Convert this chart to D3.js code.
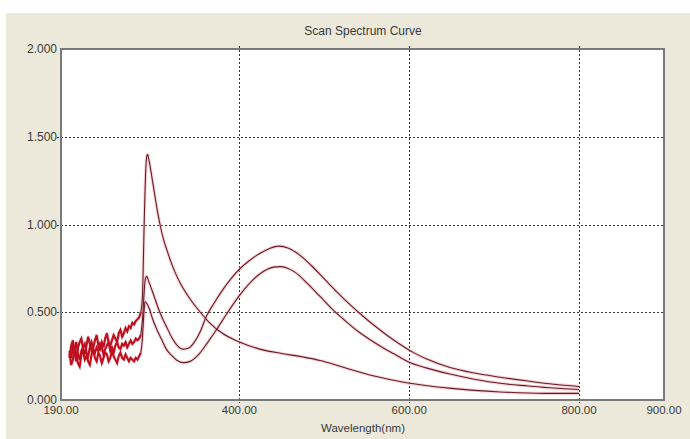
<!DOCTYPE html>
<html>
<head>
<meta charset="utf-8">
<script src="https://cdn.jsdelivr.net/npm/d3@7"></script>
<style>
  html, body { margin: 0; padding: 0; background: #ffffff; }
  svg { display: block; }
  text { font-family: "Liberation Sans", "DejaVu Sans", sans-serif; fill: #3a3a3a; }
</style>
</head>
<body>
<svg id="chart" width="690" height="439"></svg>
<script>
// ---------- data ----------
const chartTitle = "Scan Spectrum Curve";
const xAxisTitle = "Wavelength(nm)";
const xTickValues = [190, 400, 600, 800, 900];
const yTickValues = [0, 0.5, 1.0, 1.5, 2.0];
const xGridValues = [400, 600, 800];
const yGridValues = [0.5, 1.0, 1.5];

const seriesA_nm = [200,202,204,206,208,210,212,214,216,218,220,222,224,226,228,230,232,234,236,238,240,242,244,246,248,250,252,254,256,258,260,262,264,266,268,270,272,274,276,278,280,282,
  284,286,287,288,289,290,291,292,293,295,297,300,303,307,311,315,320,325,330,340,354,365,380,400,424,450,475,495,510,530,560,597,650,707,760,800];
const seriesA_abs = [0.24,0.31,0.34,0.27,0.22,0.30,0.33,0.35,0.29,0.26,0.31,0.36,0.32,0.28,0.30,0.34,0.37,0.31,0.29,0.33,0.30,0.35,0.38,0.33,0.31,0.34,0.37,0.35,0.33,0.38,0.40,0.36,0.38,0.41,0.39,0.42,0.41,0.44,0.43,0.45,0.46,0.47,
  0.50,0.60,0.80,1.02,1.20,1.33,1.39,1.40,1.38,1.33,1.27,1.18,1.09,0.99,0.91,0.85,0.78,0.72,0.67,0.59,0.50,0.44,0.38,0.33,0.29,0.265,0.245,0.225,0.205,0.175,0.135,0.098,0.066,0.046,0.038,0.038];

const seriesB_nm = [200,202,204,206,208,210,212,214,216,218,220,222,224,226,228,230,232,234,236,238,240,242,244,246,248,250,252,254,256,258,260,262,264,266,268,270,272,274,276,278,280,282,
  284,286,288,289,290,291,293,296,299,304,309,314,320,326,333,340,346,354,361,370,380,390,400,412,424,435,446,458,470,485,500,515,530,545,560,575,590,605,620,648,675,707,740,770,800];
const seriesB_abs = [0.28,0.24,0.31,0.29,0.33,0.26,0.23,0.28,0.30,0.32,0.27,0.25,0.30,0.33,0.29,0.27,0.30,0.28,0.32,0.30,0.26,0.29,0.31,0.33,0.28,0.30,0.27,0.31,0.33,0.30,0.29,0.32,0.31,0.33,0.30,0.32,0.34,0.32,0.33,0.35,0.34,0.35,
  0.37,0.46,0.62,0.68,0.70,0.705,0.68,0.64,0.60,0.53,0.47,0.42,0.36,0.315,0.29,0.295,0.323,0.39,0.475,0.55,0.625,0.69,0.745,0.795,0.835,0.862,0.877,0.865,0.83,0.765,0.69,0.615,0.545,0.48,0.42,0.365,0.315,0.27,0.235,0.185,0.155,0.13,0.108,0.09,0.077];

const seriesC_nm = [200,202,204,206,208,210,212,214,216,218,220,222,224,226,228,230,232,234,236,238,240,242,244,246,248,250,252,254,256,258,260,262,264,266,268,270,272,274,276,278,280,282,
  284,286,287,288,289,291,294,298,303,308,314,320,326,334,342,348,354,363,373,385,400,412,424,433,440,448,456,465,480,495,510,525,540,555,570,585,600,620,648,675,707,740,770,800];
const seriesC_abs = [0.27,0.20,0.23,0.29,0.25,0.21,0.19,0.26,0.28,0.23,0.25,0.22,0.20,0.26,0.28,0.24,0.22,0.27,0.25,0.21,0.24,0.27,0.26,0.22,0.24,0.28,0.25,0.23,0.21,0.25,0.27,0.24,0.23,0.26,0.24,0.22,0.24,0.23,0.22,0.24,0.23,0.25,
  0.27,0.36,0.45,0.52,0.56,0.55,0.52,0.46,0.40,0.35,0.29,0.255,0.228,0.213,0.22,0.24,0.27,0.33,0.40,0.49,0.595,0.665,0.718,0.745,0.757,0.76,0.752,0.73,0.665,0.59,0.515,0.45,0.39,0.34,0.295,0.255,0.215,0.183,0.148,0.12,0.095,0.08,0.068,0.06];

const seriesList = [
  { nm: seriesC_nm, abs: seriesC_abs },
  { nm: seriesB_nm, abs: seriesB_abs },
  { nm: seriesA_nm, abs: seriesA_abs }
];
const noiseEnd = 284; // wavelengths up to here are drawn as the noisy baseline

// ---------- layout ----------
const W = 690, H = 439;
const plot = { left: 61, right: 664, top: 49, bottom: 400 };

const svg = d3.select("#chart");

svg.append("rect").attr("x", 6).attr("y", 13).attr("width", W - 6).attr("height", H - 13).attr("fill", "#ECE9DA");

svg.append("rect")
  .attr("x", plot.left).attr("y", plot.top)
  .attr("width", plot.right - plot.left).attr("height", plot.bottom - plot.top)
  .attr("fill", "#ffffff");

const x = d3.scaleLinear().domain([190, 900]).range([plot.left, plot.right]);
const y = d3.scaleLinear().domain([0, 2]).range([plot.bottom, plot.top]);

// gridlines
const grid = svg.append("g");
grid.selectAll("line.hg").data(yGridValues).enter().append("line")
  .attr("x1", plot.left - 4).attr("x2", plot.right)
  .attr("y1", d => Math.round(y(d)) + 0.5).attr("y2", d => Math.round(y(d)) + 0.5)
  .attr("stroke", "#333").attr("stroke-width", 1).attr("stroke-dasharray", "2,2");
grid.selectAll("line.vg").data(xGridValues).enter().append("line")
  .attr("x1", d => Math.round(x(d)) + 0.5).attr("x2", d => Math.round(x(d)) + 0.5)
  .attr("y1", plot.top - 3).attr("y2", plot.bottom + 3)
  .attr("stroke", "#333").attr("stroke-width", 1).attr("stroke-dasharray", "2,2");

// curves
const smoothLine = d3.line().x(d => x(d[0])).y(d => y(d[1])).curve(d3.curveMonotoneX);
const rawLine = d3.line().x(d => x(d[0])).y(d => y(d[1]));
const curves = svg.append("g");
seriesList.forEach(s => {
  const pts = s.nm.map((v, i) => [v, s.abs[i]]);
  curves.append("path").attr("d", smoothLine(pts)).attr("fill", "none")
    .attr("stroke", "#f0a8b0").attr("stroke-width", 3.2).attr("stroke-opacity", 0.5);
});
seriesList.forEach(s => {
  const pts = s.nm.map((v, i) => [v, s.abs[i]]);
  const noisy = pts.filter(p => p[0] <= noiseEnd);
  const smooth = pts.filter(p => p[0] >= noiseEnd);
  curves.append("path").attr("d", smoothLine(smooth)).attr("fill", "none")
    .attr("stroke", "#641c2a").attr("stroke-width", 1.1);
  curves.append("path").attr("d", rawLine(noisy)).attr("fill", "none")
    .attr("stroke", "#be0f1e").attr("stroke-width", 2.1).attr("stroke-linejoin", "miter");
});

// border
svg.append("rect")
  .attr("x", plot.left).attr("y", plot.top)
  .attr("width", plot.right - plot.left).attr("height", plot.bottom - plot.top)
  .attr("fill", "none").attr("stroke", "#7a7a7a").attr("stroke-width", 2);

// y tick labels
svg.append("g").selectAll("text").data(yTickValues).enter().append("text")
  .attr("x", plot.left - 4).attr("y", d => y(d) + 4)
  .attr("text-anchor", "end").attr("font-size", 12)
  .text(d => d3.format(".3f")(d));

// x tick labels
svg.append("g").selectAll("text").data(xTickValues).enter().append("text")
  .attr("x", d => x(d)).attr("y", 414)
  .attr("text-anchor", "middle").attr("font-size", 11.5)
  .text(d => d3.format(".2f")(d));

// titles
svg.append("text").attr("x", 363).attr("y", 35).attr("text-anchor", "middle")
  .attr("font-size", 12).text(chartTitle);
svg.append("text").attr("x", 363).attr("y", 432).attr("text-anchor", "middle")
  .attr("font-size", 11.5).text(xAxisTitle);
</script>
</body>
</html>
